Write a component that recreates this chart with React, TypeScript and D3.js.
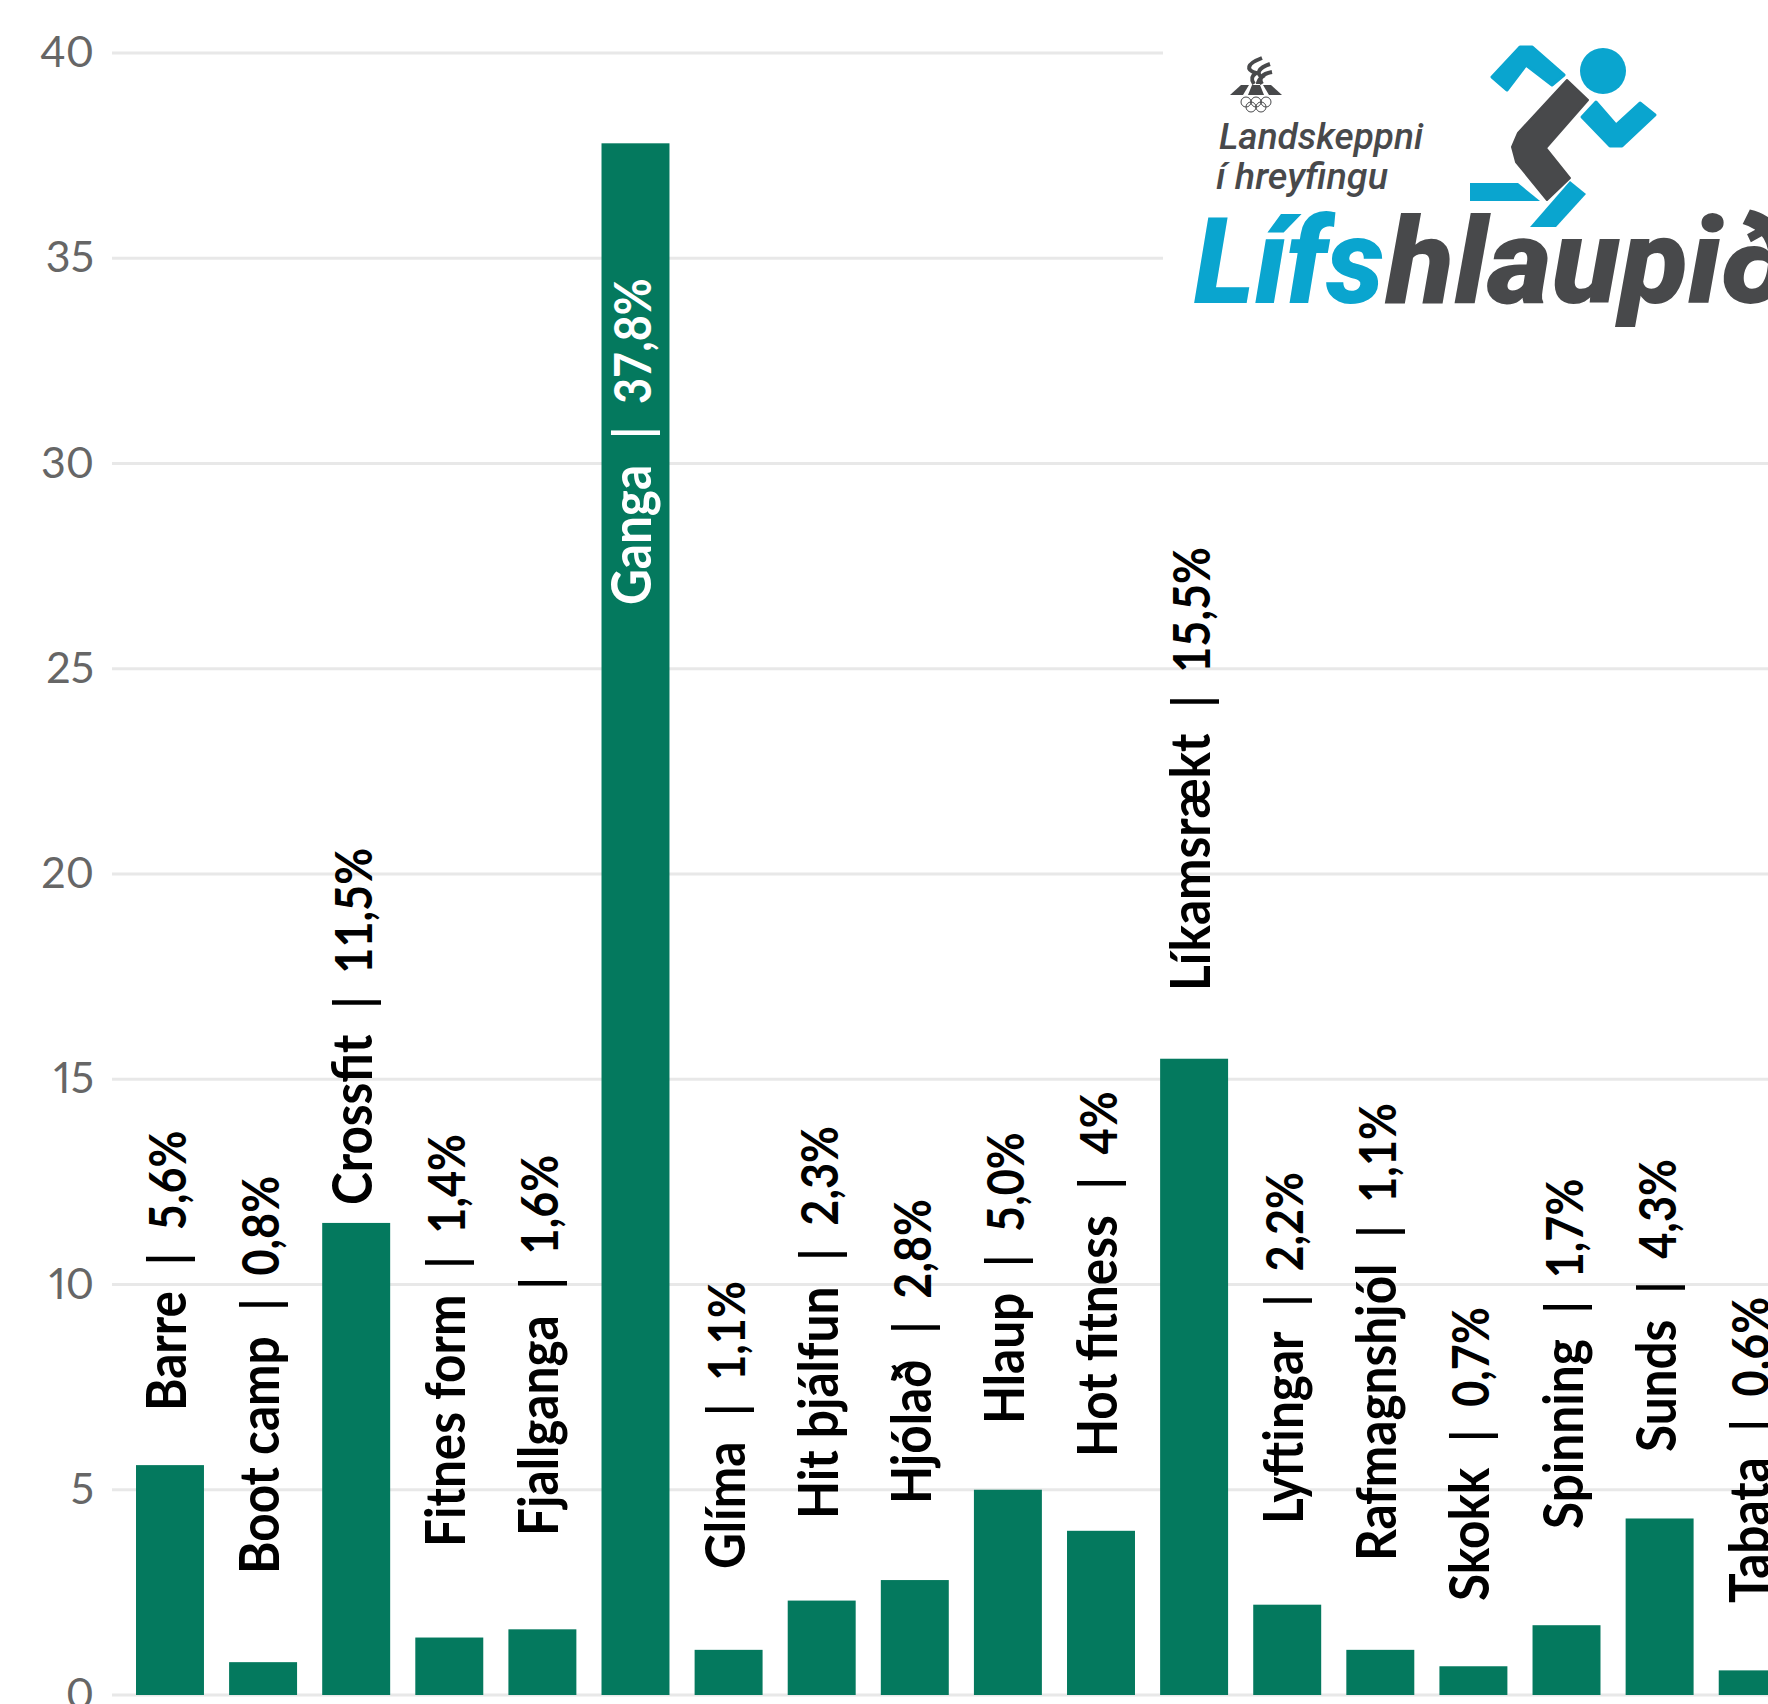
import React from "react";
import * as d3 from "d3";

const categories = ["Barre","Boot camp","Crossfit","Fitnes form","Fjallganga","Ganga","Glíma","Hit þjálfun","Hjólað","Hlaup","Hot fitness","Líkamsrækt","Lyftingar","Rafmagnshjól","Skokk","Spinning","Sunds","Tabata"];
const shares = [5.6,0.8,11.5,1.4,1.6,37.8,1.1,2.3,2.8,5.0,4,15.5,2.2,1.1,0.7,1.7,4.3,0.6];
const shareLabels = ["5,6%","0,8%","11,5%","1,4%","1,6%","37,8%","1,1%","2,3%","2,8%","5,0%","4%","15,5%","2,2%","1,1%","0,7%","1,7%","4,3%","0,6%"];
// layout: where each rotated label starts, in page pixels
const labelStartY = [1411,1574,1205,1547,1536,605,1569,1519,1504,1424,1457,991,1524,1561,1601,1529,1452,1603];

const W = 1768, H = 1704;
const x = d3.scaleBand().domain(categories).range([136, 136 + 17 * 93.1 + 68]).paddingInner(0.27).paddingOuter(0);
const y = d3.scaleLinear().domain([0, 40]).range([1695, 53]);
const ticks = y.ticks(8);
const GREEN = "#04795e", BLUE = "#0aa5cf", DARK = "#48494b";
const poly = (p: number[][]) => d3.line().curve(d3.curveLinearClosed)(p as [number, number][]) as string;

const armTop = [[1492,77],[1520,47],[1532,47],[1564,75],[1552,85],[1526,65],[1507,90]];
const armBack = [[1582,117],[1596,102],[1616,125],[1640,103],[1655,115],[1622,146],[1610,146]];
const torso = [[1567,80],[1588,100],[1546,148],[1570,178],[1547,200],[1516,162],[1512,147],[1518,133]];
const footBack = [[1470,183],[1518,183],[1540,201],[1470,201]];
const shin = [[1570,181],[1586,194],[1556,227],[1530,227]];
const ringCx = [1246,1256,1266,1251,1261];
const ringCy = [102,102,102,107,107];

function Logo() {
  return (
    <g>
      <rect x={1163} y={30} width={605} height={310} fill="#fff" />
      <path d={poly(armTop)} fill={BLUE} stroke={BLUE} strokeWidth={3} strokeLinejoin="round" />
      <path d={poly(armBack)} fill={BLUE} stroke={BLUE} strokeWidth={3} strokeLinejoin="round" />
      <path d={poly(footBack)} fill={BLUE} />
      <path d={poly(shin)} fill={BLUE} />
      <path d={poly(torso)} fill={DARK} stroke={DARK} strokeWidth={2} strokeLinejoin="round" />
      <circle cx={1603} cy={71} r={23} fill={BLUE} />
      <g fill="none" stroke={DARK} strokeWidth={4}>
        <path d="M1262 58 C1246 64 1246 70 1256 73 C1250 77 1252 81 1254 84" />
        <path d="M1270 64 C1258 68 1256 74 1262 77 C1258 80 1258 82 1258 84" />
        <path d="M1272 72 C1262 74 1258 78 1262 84" />
      </g>
      <path d={poly([[1230,95],[1241,85],[1249,85],[1243,95]])} fill={DARK} />
      <path d={poly([[1248,95],[1252,85],[1260,85],[1264,95]])} fill={DARK} />
      <path d={poly([[1269,95],[1263,85],[1271,85],[1282,95]])} fill={DARK} />
      {ringCx.map((cx, i) => <circle key={i} cx={cx} cy={ringCy[i]} r={5} fill="none" stroke={DARK} strokeWidth={1} />)}
      <g fontFamily="Roboto" fontStyle="italic" fontWeight={500} fill={DARK} fontSize={36}>
        <text x={1219} y={149} textLength={204} lengthAdjust="spacingAndGlyphs">Landskeppni</text>
        <text x={1216} y={189} textLength={172} lengthAdjust="spacingAndGlyphs">í hreyfingu</text>
      </g>
      <g fontFamily="Roboto" fontStyle="italic" fontWeight={900} fontSize={120}>
        <text x={1194} y={303} fill={BLUE} textLength={190} lengthAdjust="spacingAndGlyphs">Lífs</text>
        <text x={1386} y={303} fill={DARK} textLength={404} lengthAdjust="spacingAndGlyphs">hlaupið</text>
      </g>
    </g>
  );
}

export default function App() {
  return (
    <svg width={W} height={H} viewBox={`0 0 ${W} ${H}`} style={{ position: "absolute", left: 0, top: 0, background: "#fff" }}>
      {ticks.map((t) => (
        <g key={t}>
          <line x1={112} x2={W} y1={y(t)} y2={y(t)} stroke="#e8e8e8" strokeWidth={3} />
          <text x={94} y={y(t) + 14} textAnchor="end" fontFamily="Lato" fontSize={43} fill="#666" style={{ fontVariantNumeric: "proportional-nums", fontFeatureSettings: '"pnum"' }}>{t}</text>
        </g>
      ))}
      <Logo />
      {categories.map((c, i) => (
        <rect key={c} x={x(c)} y={y(shares[i])} width={x.bandwidth()} height={y(0) - y(shares[i])} fill={GREEN} />
      ))}
      {categories.map((c, i) => (
        <text
          key={c}
          transform={`translate(${(x(c) as number) + x.bandwidth() / 2 + 16},${labelStartY[i]}) rotate(-90) scale(1,1.13)`}
          fontFamily="Lato" fontWeight={700}
          fill={c === "Ganga" ? "#fff" : "#000"}
          style={{ whiteSpace: "pre" }}
        >
          <tspan fontSize={49.5}>{`${c}  `}</tspan>
          <tspan fontSize={46} dx={2}>|</tspan>
          <tspan fontSize={45} dx={1}>{`  ${shareLabels[i]}`}</tspan>
        </text>
      ))}
    </svg>
  );
}
